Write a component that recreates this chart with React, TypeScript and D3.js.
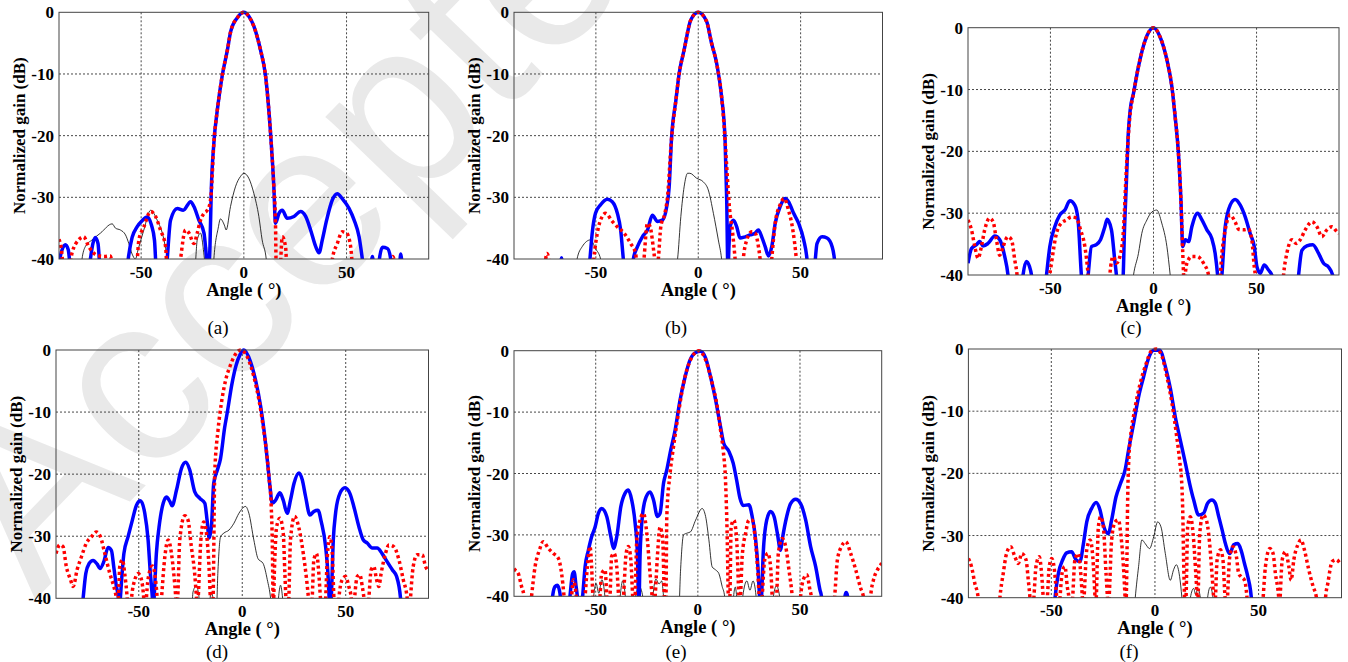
import React from 'react';
import * as d3 from 'd3';

type P = [number, number];

// ---------- data (angle in degrees, normalized gain in dB) ----------
const blueA: P[] = [[-90,-40.5],[-88.5,-38.5],[-86.9,-37.7],[-85.5,-38.5],[-84.1,-42],
[-75.5,-42],[-74.7,-40],[-73.5,-37.5],[-72.3,-36.5],[-71,-37.5],[-69.8,-42],
[-57,-42],[-56.3,-40],[-54.4,-36.5],[-52,-34.8],[-49.5,-33.8],[-47.1,-33.2],[-45,-34.5],[-43.5,-37],[-42.5,-42],
[-37.8,-42],[-37.3,-40],[-35.7,-33.7],[-32.4,-31.8],[-29.5,-32.1],[-25.9,-30.7],[-24.3,-31.5],[-21.9,-33.7],[-19.4,-35.8],[-18.1,-40],[-17.3,-42],[-16.5,-38],[-15.9,-29.4],[-14.6,-21.2],[-12.9,-15.8],[-10.5,-10.2],[-8,-6.1],[-6.4,-3.1],[-3,-0.8],[0,0],[2.5,-0.7],[4.9,-2.3],[8.1,-6.1],[10.6,-10.4],[13,-19.6],[14.6,-28.3],[15.4,-34.2],[17.1,-32.6],[18.7,-32.1],[21.1,-33.4],[24.4,-33.1],[27.6,-32.3],[30.1,-33.1],[32.5,-35.3],[35,-38],[36.6,-39],[38.2,-36.9],[40.3,-33.7],[43.1,-30.4],[45.5,-29.4],[47.9,-30.2],[51.2,-31.8],[53.7,-33.7],[56.1,-36.4],[57.7,-40],[58.5,-42],
[61.5,-42],[62.6,-39.6],[63.5,-42],
[65.5,-42],[66,-40],[67.5,-38.1],[69.9,-38.3],[71.5,-40],[72,-42],
[75.5,-42],[76.4,-39.2],[77.2,-42]];
const redA: P[] = [[-90,-36.8],[-88.8,-38.5],[-87.7,-42],[-85,-42],[-83.7,-39.1],[-80.4,-36.9],[-78,-36.4],[-75.5,-38],[-71.5,-39.4],[-68,-39.6],[-65,-39.5],[-63.5,-42],
[-52.5,-42],[-51.1,-36.9],[-48.7,-34.8],[-45.4,-32.3],[-43,-33.1],[-40.6,-35.3],[-38.1,-38],[-37.3,-42],
[-31.5,-42],[-30.8,-40],[-28.4,-35.3],[-26.7,-35.8],[-24.3,-37.5],[-22.7,-35.8],[-21.1,-33.7],[-19.4,-32.6],[-17.8,-32.1],[-16.5,-31],[-15.9,-29.4],[-14.6,-21.2],[-12.9,-15.8],[-10.5,-10.2],[-8,-6.1],[-6.4,-3.1],[-3,-0.8],[0,0],[2.5,-0.7],[4.9,-2.3],[8.1,-6.1],[10.6,-10.4],[13,-19.6],[14.6,-28.3],[15.4,-34.2],[15.8,-42],
[17.5,-42],[18.7,-36.4],[20.3,-38],[21.1,-42],
[42.5,-42],[43.1,-40],[45.5,-37.5],[47.9,-35.6],[50,-35.8],[52,-38],[53.3,-42],
[71,-42],[72.5,-39.6],[74,-42]];
const blackA: P[] = [[-79.5,-42],[-78.8,-40],[-77.2,-38],[-73.9,-36.9],[-69.8,-35.8],[-64.1,-34.3],[-62.5,-35],[-60.1,-35.3],[-57.6,-36.1],[-56,-37.5],[-54.4,-39.2],[-52.8,-40],[-51.5,-38.5],[-48.7,-35.3],[-45.4,-32.1],[-42.2,-33.7],[-38.9,-36.9],[-37.3,-40],[-36.5,-42],
[-24,-42],[-22.7,-36.9],[-21.1,-35.8],[-19.5,-39],[-18.5,-42],
[-15,-42],[-14.6,-40],[-12.5,-35],[-11.4,-33.5],[-9.5,-34.5],[-8.6,-35.3],[-6.5,-31.5],[-4.1,-28.3],[-1.6,-26.6],[0,-26.1],[2.4,-26.9],[4.9,-29.4],[7.3,-33.1],[8.9,-36.9],[10.9,-40],[11.5,-42]];

const blueB: P[] = [[-67.5,-42],[-66.8,-39.8],[-66,-42],
[-53.5,-42],[-52.9,-40],[-51.8,-35.8],[-50.2,-32.6],[-47.7,-31.2],[-44.4,-30.3],[-42,-30.7],[-39.5,-32.6],[-37.9,-35.3],[-36.6,-40],[-36,-42],
[-32.2,-42],[-31.7,-40],[-29.7,-38],[-27.3,-36.4],[-24.8,-35.3],[-22.4,-32.9],[-19.9,-33.9],[-17.5,-33.7],[-15.4,-31.5],[-14.2,-28.3],[-13.1,-20.7],[-10.9,-14.2],[-9.3,-9.9],[-6.9,-6.1],[-3.6,-1.2],[0,0],[4.1,-1.5],[6.5,-5],[9,-8.3],[11.4,-13.7],[13.1,-20.7],[13.9,-30.4],[14.5,-42],[15,-38],[15.5,-34.8],[17.2,-33.7],[18.8,-34.8],[20.4,-36.6],[22.9,-36.4],[25.3,-36.1],[27.8,-35.8],[29.4,-35.3],[31,-36.4],[32.7,-38],[34.3,-39.5],[35.9,-38],[37.6,-34.2],[40,-31.5],[42.5,-30.2],[44.1,-30.7],[46.6,-32.6],[49,-34.2],[51.5,-36.9],[53.1,-40],[53.6,-42],
[56.7,-42],[57.2,-40],[58,-37.5],[60.5,-36.4],[62.9,-36.6],[65.4,-38],[66.5,-40],[67,-42]];
const redB: P[] = [[-75,-42],[-74.5,-40],[-73.9,-39.1],[-73,-40],[-72.5,-42],
[-51.5,-42],[-51,-40],[-49.3,-35.8],[-46.9,-33.1],[-45.3,-32.6],[-42,-33.9],[-39.5,-34.8],[-36.3,-35.8],[-33,-37.5],[-30.6,-39.1],[-29.5,-42],
[-27,-42],[-26.5,-40],[-24.8,-34.2],[-23.5,-34.8],[-21.6,-39.1],[-20.5,-42],[-19.5,-40],[-18.3,-34.8],[-16.3,-32.6],[-15,-29.9],[-13.1,-20.7],[-10.9,-14.2],[-9.3,-9.9],[-6.9,-6.1],[-3.6,-1.2],[0,0],[4.1,-1.5],[6.5,-5],[9,-8.3],[11.4,-13.7],[13.1,-20.7],[13.9,-25],[15.2,-31.5],[16.8,-35.8],[18,-40],[18.5,-42],
[21.5,-42],[22,-40],[23.7,-36.9],[26.1,-35.6],[27.8,-35.8],[29.4,-38],[30.2,-40],[30.7,-42],
[35.4,-42],[35.9,-40],[37.6,-34.2],[40,-31.2],[42,-30.2],[44.1,-32.1],[46.2,-35.3],[47.9,-40],[48.4,-42]];
const blackB: P[] = [[-60,-42],[-59.2,-40],[-56.7,-38],[-52.6,-36.9],[-50.2,-38.3],[-47.7,-40],[-47,-42],
[-11,-42],[-10.1,-40],[-8.5,-33.1],[-6.9,-28.3],[-5.2,-26.1],[-4.1,-26.1],[-0.8,-26.9],[2.5,-27.5],[4.9,-28.8],[7.4,-32.6],[9.8,-36.9],[11.4,-40],[12,-42]];

const blueC: P[] = [[-90,-38.1],[-88.3,-35.7],[-85.9,-35.1],[-84.3,-34.6],[-82.7,-35.3],[-80.3,-34.9],[-77,-33.7],[-74.6,-34.3],[-72.2,-37],[-70.6,-40],[-70,-42],
[-64,-42],[-63.3,-40],[-61.7,-37.8],[-60.2,-38.6],[-59.2,-40],[-58.5,-42],
[-52.5,-42],[-51.9,-40],[-50.3,-35.4],[-47.9,-32.2],[-45.5,-30.3],[-43,-29.5],[-40.6,-28],[-38.2,-28.7],[-36.6,-31.1],[-35,-40],[-34.5,-42],
[-32.3,-42],[-31.7,-40],[-30.1,-35.4],[-27.7,-35.1],[-25.7,-34.3],[-23.6,-32.2],[-22.5,-31],[-20.4,-32.7],[-18.8,-37.6],[-18,-40],[-17.5,-42],
[-15.2,-42],[-14.7,-40],[-14.1,-33],[-13.1,-24.6],[-12.3,-17.5],[-11.3,-13.3],[-9.7,-10.6],[-7.3,-6.3],[-4,-2],[0,0],[3.2,-1.5],[6.5,-5.2],[8.9,-9.5],[10.5,-14.4],[12.1,-20.3],[13.3,-27.8],[14.2,-35.4],[15.4,-34.3],[17,-34.6],[18.6,-32.2],[21.4,-30],[23.5,-31.1],[25.9,-32.7],[28.3,-34.1],[29.9,-36.5],[31.1,-40],[31.6,-42],
[32.7,-42],[33.2,-40],[34.8,-32.2],[37.2,-28.7],[39.6,-27.8],[42.1,-28.7],[44.5,-30.6],[46.9,-33.3],[48.9,-35.4],[50.2,-38.7],[51.8,-39.7],[53.7,-38.4],[55.8,-39.2],[57.4,-40],[58,-42],
[69.8,-42],[70.4,-40],[72,-36],[74.4,-35.3],[77.3,-35.1],[80.1,-36.5],[82.5,-38.1],[84.9,-38.7],[86.9,-40],[87.5,-42]];
const redC: P[] = [[-90,-31.1],[-88.3,-32.7],[-86.7,-35.4],[-85.1,-37.3],[-83.5,-35.4],[-81.9,-32.7],[-79.5,-30.8],[-77.8,-31.4],[-76.2,-34.3],[-74.6,-36.8],[-73,-35.4],[-70.6,-33.8],[-68.9,-34.3],[-67.3,-37.6],[-66.2,-40],[-65.7,-42],
[-50.8,-42],[-50.3,-40],[-49.5,-38.1],[-47.1,-33.3],[-44.7,-31.6],[-42.2,-31.1],[-39.8,-30.6],[-37.4,-30.8],[-35.4,-32.7],[-33.3,-35.4],[-31.7,-40],[-31.2,-42],
[-21.7,-42],[-21.2,-40],[-19.6,-37],[-18,-38.1],[-16.3,-37],[-14.7,-33.3],[-13.1,-22.5],[-11.5,-14.5],[-9.7,-10.6],[-7.3,-6.3],[-4,-2],[0,0],[3.2,-1.5],[6.5,-5.2],[8.9,-9.5],[10.5,-14.4],[12.1,-20.3],[13.3,-27.8],[14.2,-36.5],[14.6,-40],[15,-42],[15.4,-40],[16.2,-38.1],[18.6,-37],[21,-37],[24.3,-38.1],[26.7,-40],[27.2,-42],
[31.9,-42],[32.4,-40],[33.2,-36.5],[34.8,-32.7],[37.2,-30.3],[39.6,-31.4],[41.3,-32.6],[43.7,-32.7],[46.1,-32.6],[47.7,-34.3],[48.9,-38.7],[49.4,-40],[49.9,-42],
[62.6,-42],[63.1,-40],[64.7,-36.5],[67.2,-34.3],[69.3,-34.9],[71.2,-34.3],[73.6,-32.7],[76.9,-31.4],[79.3,-32.2],[81.7,-33.8],[84.1,-32.7],[86.6,-32.2],[89,-33],[90,-33.3]];
const blackC: P[] = [[-10.5,-42],[-9.7,-40],[-7.3,-36.5],[-5.7,-33.3],[-3.2,-31.1],[-0.8,-29.8],[1.6,-29.5],[4,-31.6],[6.5,-35.4],[8.1,-40],[8.7,-42]];

const blueD: P[] = [[-77.5,-42],[-76.9,-40],[-75.6,-36],[-74,-34.4],[-72.1,-33.9],[-70.1,-34.5],[-68.8,-35.2],[-66.9,-34.1],[-64.8,-31.8],[-63.2,-32.3],[-62.1,-34.9],[-60.8,-38.1],[-59.8,-40],[-59.3,-42],
[-58.9,-40],[-57.2,-32.8],[-55.2,-30.1],[-53.1,-27.4],[-51.1,-25],[-49.2,-24.3],[-47.1,-26.3],[-45.5,-30.6],[-44.4,-36],[-43.4,-40],[-43,-42],
[-42.6,-40],[-41.5,-32.8],[-40.2,-28.5],[-38.2,-24.7],[-36.6,-23.7],[-35,-24.4],[-33.9,-25.1],[-31.8,-22.6],[-29.4,-19.1],[-27.3,-18.1],[-25.4,-19.3],[-23,-22.8],[-20.5,-23.9],[-18.1,-24.7],[-17,-27.4],[-16,-30.3],[-14.9,-28.5],[-13.8,-21.5],[-12,-19.3],[-10.5,-17.5],[-8.5,-12.5],[-7.2,-10],[-5,-5.5],[-3,-2.5],[-1,-0.7],[0.8,0],[4,-1.9],[6.4,-4.8],[8.9,-9.1],[10.5,-12.9],[12.1,-17.7],[13.4,-22],[14.5,-24.7],[16.1,-24.2],[18.2,-23],[19.8,-24.2],[21.7,-26.3],[23.3,-24.2],[25,-21.5],[27.4,-19.8],[29,-20.9],[30.6,-23.6],[32.7,-26.6],[34.6,-26],[36.6,-25.8],[38.2,-27.7],[40.3,-31.7],[41.4,-36],[42,-40],[42.5,-42],[43,-40],[44,-30.6],[45.1,-26.3],[47.2,-23.1],[49.6,-22.2],[52,-23.1],[53.9,-25.2],[56.4,-28.5],[58.5,-30.6],[60.4,-31.1],[62.8,-31.9],[65.2,-31.9],[67.6,-32.8],[70,-34.1],[72.5,-35.4],[74.6,-36.5],[76.5,-40],[77,-42]];
const redD: P[] = [[-90,-32.8],[-88.2,-31.4],[-86.6,-31.7],[-85,-34.9],[-83,-37],[-81.7,-38.1],[-79.8,-35.4],[-77.7,-33.3],[-75.3,-31.1],[-72.9,-30.1],[-70.5,-29.3],[-68.5,-30.1],[-66.4,-32.8],[-64,-36],[-61.6,-38.7],[-60.8,-40],[-60.2,-42],
[-59.6,-38],[-59.2,-34.9],[-57.9,-33.8],[-56.8,-36],[-55.6,-40],[-55.2,-42],
[-53.8,-42],[-53.5,-40],[-51.9,-37],[-50.3,-36],[-48.7,-37],[-47.6,-40],[-47.2,-42],
[-46.6,-42],[-46.3,-40],[-45,-36],[-43.4,-34.8],[-42.3,-36],[-41.1,-40],[-40.7,-42],
[-39.4,-42],[-39,-40],[-37.4,-33.3],[-35.8,-30.6],[-34.2,-32.8],[-33.1,-36],[-32.1,-40],[-31.7,-42],
[-31.2,-40],[-30.2,-30.6],[-27.8,-26.7],[-26.2,-27.4],[-24.6,-31.7],[-23,-36],[-22.1,-40],[-21.7,-42],
[-21.3,-40],[-20,-30.6],[-18.6,-27.7],[-17.3,-29.5],[-16,-35.4],[-15.4,-40],[-14.8,-42],
[-14.1,-40],[-13.3,-19.9],[-11.7,-12.9],[-10.1,-8.6],[-7.6,-4.3],[-6,-2.7],[-4,-1.1],[-0.8,0],[2.4,-1.1],[5.6,-4.3],[8.1,-8.1],[10.1,-12.3],[11.8,-16.6],[12.9,-20.4],[14,-25.2],[14.5,-30.6],[15,-42],[15.5,-36],[16.6,-28.5],[18.2,-27.1],[19.8,-29.5],[20.6,-36],[21.1,-40],[21.6,-42],
[22.1,-42],[22.5,-40],[23.3,-30.6],[25.3,-26.8],[27.4,-28.7],[29.5,-32.8],[31.1,-37],[32,-40],[32.5,-42],
[33.4,-42],[33.8,-40],[34.6,-33.8],[35.9,-32.8],[37,-36],[37.8,-40],[38.3,-42],
[39.9,-42],[40.3,-40],[41.1,-33.3],[42.4,-30.1],[43.5,-32.8],[44.3,-40],[44.8,-42],
[46.3,-42],[46.7,-40],[48.3,-37],[49.9,-36.5],[51.5,-38.1],[52.7,-40],[53.2,-42],
[53.9,-42],[54.3,-40],[55.6,-36.5],[56.8,-36.2],[58,-38.1],[58.8,-40],[59.3,-42],
[60.8,-42],[61.2,-40],[62.3,-35.4],[63.6,-34.9],[64.9,-37],[66,-38.1],[67.1,-36],[69.2,-32.8],[70.9,-31.4],[73.3,-31.7],[75.7,-33.8],[77.8,-37],[79.7,-40],[80.2,-42],
[80.9,-42],[81.3,-40],[82.6,-34.9],[84.5,-33],[87,-33],[88.6,-34.9],[90,-35.6]];
const blackD: P[] = [[-24.3,-42],[-23.8,-39],[-22.3,-38],[-21,-39.5],[-20.5,-42],
[-16,-42],[-15.2,-39],[-14.4,-39.5],[-13.6,-42],
[-12.5,-42],[-11.8,-36],[-10.5,-30.1],[-8.9,-29.5],[-6.4,-29],[-4,-27.9],[-1.6,-26.3],[1.6,-25.2],[3.2,-26.3],[5.6,-30.6],[7.6,-33.6],[10.1,-34.4],[12.1,-37],[13.7,-40],[14.3,-42],
[17,-42],[17.5,-40],[18.5,-37.9],[19.5,-40],[20,-42]];

const blueE: P[] = [[-71.6,-42],[-71.1,-40],[-69.9,-38.4],[-68.8,-38.2],[-67.5,-39.5],[-66.8,-42],
[-63.2,-42],[-62.6,-40],[-61.3,-36.3],[-60.6,-36],[-59.6,-38.4],[-59,-40],[-58.5,-42],
[-57,-42],[-56.4,-40],[-55.2,-35.2],[-53.6,-32.5],[-52,-30.3],[-50.3,-28.7],[-48.7,-26.5],[-47.1,-25.7],[-44.6,-27],[-42.6,-30.3],[-41.3,-32.2],[-39.7,-30.3],[-37.7,-25.4],[-35.6,-23.2],[-34,-22.7],[-32.4,-24.3],[-30.7,-28.1],[-29.6,-33],[-28.9,-42],[-28.3,-33.5],[-27,-26.5],[-25.3,-23.8],[-23.4,-23],[-21.7,-24.3],[-19.8,-27],[-18.5,-26.5],[-16.8,-21.6],[-15.2,-19.4],[-13.6,-16.7],[-11.1,-12.9],[-8.7,-8],[-6.2,-4.2],[-3.8,-1.5],[-1,-0.3],[1.3,-0.1],[3.8,-1.2],[6.2,-4.2],[8.7,-8],[11.1,-12.4],[12.7,-15.1],[15.2,-16.4],[17.3,-18.3],[19,-21.1],[20.6,-24],[22.2,-25.2],[25,-25.1],[26.6,-27],[28.3,-30.8],[29.4,-35.2],[30.2,-40],[30.7,-42],[31.2,-40],[32,-33],[33.7,-27.6],[35.6,-26.2],[37.3,-27],[38.9,-29.7],[40.5,-32.5],[41.3,-30.8],[43.5,-27],[45.4,-24.9],[47.9,-24.2],[50.3,-24.9],[52.8,-27.6],[55.2,-31.9],[57.7,-35.2],[59.8,-39],[60.5,-40],[61,-42],
[71.5,-42],[72,-40],[72.6,-39.4],[73.3,-40],[73.8,-42]];
const redE: P[] = [[-90,-35.5],[-89.5,-35.7],[-87.9,-36.3],[-86.3,-38.4],[-85.1,-40],[-84.6,-42],
[-82,-42],[-81.4,-40],[-79.7,-35.2],[-77.6,-32.5],[-75.7,-31.1],[-73.2,-32.2],[-70.8,-33],[-68.3,-33.8],[-66.7,-36.3],[-65.5,-40],[-65,-42],
[-62.3,-42],[-61.8,-40],[-60.9,-37.3],[-60.1,-38.4],[-59.5,-40],[-59,-42],
[-55.8,-42],[-55.2,-40],[-54.1,-35.2],[-52.8,-31.9],[-52,-35.2],[-51.4,-40],[-51,-42],
[-48.4,-42],[-47.9,-40],[-47.1,-36.3],[-45.4,-35.7],[-44.6,-40],[-44.2,-42],
[-43.5,-42],[-43,-40],[-42.2,-33.5],[-41,-33],[-39.7,-35.2],[-38.8,-40],[-38.4,-42],
[-36.9,-42],[-36.4,-40],[-35.1,-33],[-34,-31.9],[-32.8,-34.1],[-31.9,-40],[-31.5,-42],
[-31.1,-42],[-30.7,-40],[-29.9,-30.8],[-28.3,-27.6],[-26.6,-26.5],[-25,-29.7],[-23.4,-36.3],[-22.4,-40],[-22,-42],
[-21.4,-42],[-20.9,-40],[-19.8,-33.5],[-18.5,-28.7],[-17.2,-30.8],[-16.4,-40],[-16,-42],
[-15.6,-40],[-15.2,-27],[-13.6,-20],[-11.9,-15.6],[-9.5,-10.2],[-7,-5.3],[-3.6,-1.5],[0.5,0],[3.8,-1.5],[7,-5.3],[9.5,-9.1],[11.1,-12.9],[12.4,-16.2],[13.6,-21.6],[14.4,-30.8],[14.9,-40],[15.3,-42],
[15.7,-40],[16.3,-28.7],[17.6,-27.6],[19,-30.8],[20.1,-40],[20.5,-42],
[20.9,-40],[21.7,-33.5],[23.4,-29.7],[25,-27.6],[26.6,-27.6],[28.3,-31.4],[29.4,-36.3],[30,-40],[30.4,-42],
[31,-42],[31.5,-40],[32.7,-34.1],[34.3,-33],[35.6,-35.2],[36.4,-40],[36.8,-42],
[38.2,-42],[38.6,-40],[39.4,-33],[41.3,-30.6],[43,-31.9],[44.6,-35.7],[46.2,-40],[46.7,-42],
[49.8,-42],[50.3,-40],[51.6,-37.3],[53.3,-36.5],[54.9,-39],[55.5,-40],[56,-42],
[66.5,-42],[67,-40],[68.3,-34.1],[70.3,-31.9],[72.4,-31.1],[74.8,-33],[77.3,-35.7],[79.7,-38.7],[81,-40],[81.5,-42],
[84.2,-42],[84.6,-40],[86,-37.3],[87.9,-35.7],[89.5,-34.9],[90,-34.6]];
const blackE: P[] = [[-51.5,-42],[-51,-40],[-49.8,-37.9],[-48.5,-39.5],[-47,-37.3],[-45.5,-40],[-45,-42],
[-38.5,-42],[-38,-40],[-36.8,-37.5],[-35.5,-40],[-35,-42],
[-31,-42],[-30.5,-40],[-28.5,-38.5],[-27,-40],[-26.5,-42],
[-22.5,-42],[-22,-40],[-20.5,-37.2],[-19,-38],[-17.7,-37.5],[-16.8,-40],[-16.3,-42],
[-9.3,-42],[-8.5,-36],[-7,-30],[-5.2,-29.7],[-3.6,-29.5],[-1.1,-27.6],[2.1,-25.7],[3.8,-27],[5.4,-30.8],[7,-35.2],[8.7,-35.7],[10.3,-36.3],[11.9,-38.4],[13.1,-40],[13.6,-42],
[17,-42],[17.5,-40],[18.3,-38.5],[19,-40],[19.5,-42],
[21.5,-42],[22,-40],[24,-37.5],[25.5,-39],[27,-37.5],[28.5,-40],[29,-42],
[36.5,-42],[37,-40],[38.5,-38.3],[40,-40],[40.5,-42]];

const blueF: P[] = [[-48.8,-42],[-48.2,-40],[-46.6,-36.1],[-44.5,-33.9],[-42.6,-32.8],[-40.2,-32.6],[-38.1,-33.9],[-36.2,-34.2],[-34.5,-31.3],[-32.9,-27.8],[-30.5,-25.6],[-28.4,-24.7],[-26.5,-25.9],[-24.9,-28.3],[-22.5,-29.7],[-20.9,-27.5],[-18.8,-23.8],[-16.8,-21.8],[-14.3,-19.3],[-12.7,-16.2],[-10.3,-12],[-7.9,-7.7],[-5.5,-4.5],[-3.1,-1.5],[-0.6,-0.2],[2.3,-0.2],[5,-2.8],[7.4,-6.3],[9.8,-10.9],[12.2,-14.6],[14.7,-18.4],[16.7,-21.6],[18.7,-24.3],[21.1,-26.7],[23.5,-26.4],[25.4,-24.8],[27.5,-24.3],[29.1,-24.8],[30.8,-27],[32.4,-29.1],[34,-31.3],[36.1,-32.9],[38,-31.5],[40,-31.3],[41.5,-32.3],[43.2,-34.5],[44.8,-36.6],[46.1,-38.8],[46.5,-40],[47,-42]];
const redF: P[] = [[-90,-33.7],[-88.5,-35],[-86.9,-37.7],[-85.3,-40],[-84.8,-42],
[-75.3,-42],[-74.8,-40],[-73.2,-36.1],[-71.6,-32.9],[-69.6,-31.8],[-67.6,-33.4],[-65.9,-34.5],[-64.3,-32.9],[-62.2,-33.9],[-61.1,-37.2],[-60.3,-40],[-59.9,-42],
[-58.8,-42],[-58.4,-40],[-57.4,-35],[-55.8,-33.4],[-54.7,-36.1],[-53.9,-40],[-53.5,-42],
[-52.3,-42],[-51.9,-40],[-51,-35],[-49.8,-33.7],[-48.7,-35],[-47.4,-40],[-47,-42],
[-46.2,-42],[-45.8,-40],[-44.5,-35.5],[-43.4,-35],[-42.3,-38.2],[-41.5,-40],[-41,-42],
[-40.1,-42],[-39.7,-40],[-38.6,-33.9],[-37,-32.9],[-35.8,-36.1],[-35,-40],[-34.6,-42],
[-34.2,-40],[-32.9,-32.3],[-31.3,-30.7],[-30,-33.4],[-28.9,-40],[-28.6,-42],
[-28.3,-40],[-27.3,-28.6],[-26.2,-27],[-24.9,-28.6],[-23.6,-36.1],[-22.9,-40],[-22.5,-42],
[-22.1,-40],[-20.9,-30.7],[-19.2,-27.8],[-17.6,-27.5],[-16.5,-29.7],[-15.2,-35],[-14.4,-40],[-14.1,-42],
[-13.6,-36],[-13.2,-25],[-12.5,-17],[-11.9,-14.6],[-9.5,-9.3],[-7.1,-5.5],[-4.7,-2.8],[-1.4,-0.2],[0.6,0],[3.4,-1.2],[5.8,-4.5],[8.2,-8.7],[10.3,-13.6],[11.9,-17.9],[13,-22.1],[13.5,-27.5],[13.8,-33.4],[14.3,-40],[14.6,-42],
[15,-40],[15.8,-28.6],[17.1,-27],[18.4,-29.7],[19.5,-35],[20.3,-40],[20.5,-42],
[20.8,-40],[21.6,-29.7],[23.2,-26.7],[24.8,-27.5],[25.9,-29.7],[27.5,-36.1],[28.3,-40],[28.6,-42],
[28.9,-42],[29.2,-40],[30,-33.9],[31.6,-32.3],[32.8,-33.9],[33.8,-40],[34.2,-42],
[34.7,-42],[35,-40],[36.1,-33.4],[37.7,-31.8],[39.3,-33.4],[40.4,-36.1],[41.5,-36.6],[43.2,-37.2],[44.4,-40],[44.8,-42],
[51.8,-42],[52.2,-40],[53.3,-35],[55.4,-32.1],[57,-32.9],[58.1,-36.1],[59.7,-40],[60.1,-42],
[60.4,-40],[61.4,-33.9],[63,-32.6],[64.6,-35],[65.7,-37.2],[67,-33.9],[68.9,-31.5],[70.5,-30.7],[72.1,-32.3],[74.2,-35.5],[76.3,-38.2],[77.9,-40],[78.4,-42],
[81.9,-42],[82.3,-40],[83.4,-37.7],[85.5,-34.2],[87.6,-33.9],[89.5,-34.5],[90,-34.6]];
const blackF: P[] = [[-10,-42],[-9.5,-40],[-7.9,-35],[-6.3,-30.7],[-4.7,-31.3],[-2.6,-32.1],[-0.6,-30.2],[1.3,-27.8],[2.9,-28.6],[5,-32.9],[7.4,-37.2],[9,-35.5],[10.3,-34.7],[11.9,-36.6],[13,-40],[13.5,-42],
[16.6,-42],[17.1,-40],[18.7,-38.5],[19.6,-39.5],[20.6,-38.5],[21.9,-40],[22.4,-42],
[24.9,-42],[25.4,-40],[26.7,-38.3],[28,-40],[28.5,-42]];

const X_TICKS = [-50, 0, 50];
const Y_TICKS = [0, -10, -20, -30, -40];
const X_GRID = [-50, 0, 50];
const Y_GRID = [-10, -20, -30];
const CAPTIONS = ['(a)', '(b)', '(c)', '(d)', '(e)', '(f)'];
const X_TITLE = 'Angle ( \u00b0)';
const Y_TITLE = 'Normalized gain (dB)';
const WATERMARK = 'Accepted';

// ---------- layout ----------
const LAYOUT = [
  { x0: 59, x1: 428.7, y0: 12.3, y1: 259, capX: 218, capY: 334, blue: blueA, red: redA, black: blackA },
  { x0: 514, x1: 882.5, y0: 12.3, y1: 259, capX: 676, capY: 334, blue: blueB, red: redB, black: blackB },
  { x0: 968, x1: 1339, y0: 27.7, y1: 275, capX: 1131, capY: 334, blue: blueC, red: redC, black: blackC },
  { x0: 56, x1: 428.5, y0: 350, y1: 598.3, capX: 217, capY: 658, blue: blueD, red: redD, black: blackD },
  { x0: 514, x1: 881.7, y0: 350.7, y1: 596.3, capX: 676, capY: 658, blue: blueE, red: redE, black: blackE },
  { x0: 968.4, x1: 1341.5, y0: 349, y1: 597.7, capX: 1129, capY: 658, blue: blueF, red: redF, black: blackF },
];

const FONT = '"Liberation Serif", "Times New Roman", serif';

function Panel({ p, i }: { p: typeof LAYOUT[number]; i: number }) {
  const x = d3.scaleLinear().domain([-90, 90]).range([p.x0, p.x1]);
  const y = d3.scaleLinear().domain([-40, 0]).range([p.y1, p.y0]);
  const line = d3.line<P>().x(d => x(d[0])).y(d => y(d[1])).curve(d3.curveMonotoneX);
  const clipId = `clip-${i}`;
  const cx = (p.x0 + p.x1) / 2;
  const cy = (p.y0 + p.y1) / 2;
  return (
    <g>
      <defs>
        <clipPath id={clipId}>
          <rect x={p.x0} y={p.y0 - 3} width={p.x1 - p.x0} height={p.y1 - p.y0 + 3} />
        </clipPath>
      </defs>
      {X_GRID.map(v => (
        <line key={'gx' + v} x1={x(v)} x2={x(v)} y1={p.y0} y2={p.y1} stroke="#333" strokeWidth={0.9} strokeDasharray="2,2" />
      ))}
      {Y_GRID.map(v => (
        <line key={'gy' + v} x1={p.x0} x2={p.x1} y1={y(v)} y2={y(v)} stroke="#333" strokeWidth={0.9} strokeDasharray="2,2" />
      ))}
      <g clipPath={`url(#${clipId})`}>
        <path d={line(p.black) || ''} fill="none" stroke="#000" strokeWidth={0.8} />
        <path d={line(p.blue) || ''} fill="none" stroke="#0000ff" strokeWidth={3.5} strokeLinejoin="round" />
        <path d={line(p.red) || ''} fill="none" stroke="#ff0000" strokeWidth={3.5} strokeDasharray="3,3" />
      </g>
      <rect x={p.x0} y={p.y0} width={p.x1 - p.x0} height={p.y1 - p.y0} fill="none" stroke="#444" strokeWidth={1} />
      {Y_TICKS.map(v => (
        <text key={'yt' + v} x={p.x0 - 5} y={y(v) + 6} textAnchor="end" fontFamily={FONT} fontWeight="bold" fontSize={17} fill="#000">{String(v)}</text>
      ))}
      {X_TICKS.map(v => (
        <text key={'xt' + v} x={x(v)} y={p.y1 + 18.5} textAnchor="middle" fontFamily={FONT} fontWeight="bold" fontSize={17} fill="#000">{String(v)}</text>
      ))}
      <text x={cx} y={p.y1 + 36.5} textAnchor="middle" fontFamily={FONT} fontWeight="bold" fontSize={18.5} fill="#000">{X_TITLE}</text>
      <text transform={`translate(${p.x0 - 34},${cy}) rotate(-90)`} textAnchor="middle" fontFamily={FONT} fontWeight="bold" fontSize={17} fill="#000">{Y_TITLE}</text>
      <text x={p.capX} y={p.capY} textAnchor="middle" fontFamily={FONT} fontSize={19} fill="#000">{CAPTIONS[i]}</text>
    </g>
  );
}

export default function App() {
  return (
    <svg width={1348} height={662} style={{ position: 'absolute', left: 0, top: 0, background: '#fff' }}>
      <rect x={0} y={0} width={1348} height={662} fill="#fff" />
      <text transform="translate(35,600) rotate(-46)" fontFamily='"Liberation Sans", Arial, sans-serif' fontSize={240} fill="#e9e9e9">{WATERMARK}</text>
      {LAYOUT.map((p, i) => <Panel key={i} p={p} i={i} />)}
    </svg>
  );
}
